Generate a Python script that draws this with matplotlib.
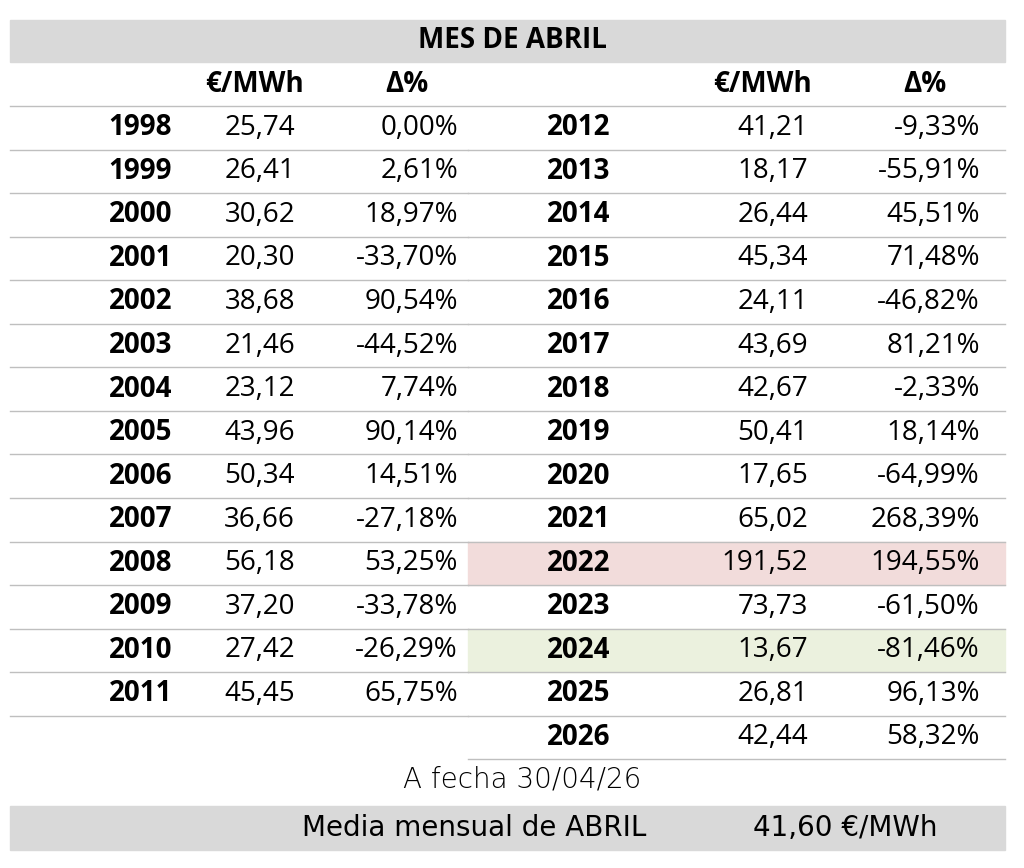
import matplotlib.pyplot as plt
from matplotlib.patches import Rectangle

years_left = ['1998', '1999', '2000', '2001', '2002', '2003', '2004', '2005', '2006',
              '2007', '2008', '2009', '2010', '2011']
price_left = ['25,74', '26,41', '30,62', '20,30', '38,68', '21,46', '23,12', '43,96', '50,34',
              '36,66', '56,18', '37,20', '27,42', '45,45']
delta_left = ['0,00%', '2,61%', '18,97%', '-33,70%', '90,54%', '-44,52%', '7,74%', '90,14%',
              '14,51%', '-27,18%', '53,25%', '-33,78%', '-26,29%', '65,75%']
years_right = ['2012', '2013', '2014', '2015', '2016', '2017', '2018', '2019', '2020',
               '2021', '2022', '2023', '2024', '2025', '2026']
price_right = ['41,21', '18,17', '26,44', '45,34', '24,11', '43,69', '42,67', '50,41', '17,65',
               '65,02', '191,52', '73,73', '13,67', '26,81', '42,44']
delta_right = ['-9,33%', '-55,91%', '45,51%', '71,48%', '-46,82%', '81,21%', '-2,33%', '18,14%',
               '-64,99%', '268,39%', '194,55%', '-61,50%', '-81,46%', '96,13%', '58,32%']
highlights = {'2022': '#f2dcdb', '2024': '#ebf1de'}

plt.rcParams['font.family'] = ['Open Sans', 'DejaVu Sans']
fig = plt.figure(figsize=(10.24, 8.68), dpi=100)
ax = fig.add_axes([0, 0, 1, 1])
ax.set_xlim(0, 1024)
ax.set_ylim(868, 0)
ax.axis('off')

fs = 20
grey = '#d9d9d9'
line = '#bfbfbf'
top, step = 106, 43.55

# title band
ax.add_patch(Rectangle((10, 20), 995, 42, color=grey, zorder=0))
ax.text(512, 41, 'MES DE ABRIL', ha='center', va='center', fontsize=fs, fontweight='bold')
for x, t in [(255, '€/MWh'), (407, 'Δ%'), (762, '€/MWh'), (925, 'Δ%')]:
    ax.text(x, 84, t, ha='center', va='center', fontsize=fs, fontweight='bold')
ax.plot([10, 1005], [106, 106], color=line, lw=1)

for i, (y_, p, d) in enumerate(zip(years_left, price_left, delta_left)):
    yc = top + step * (i + 0.5)
    ax.text(172, yc, y_, ha='right', va='center', fontsize=fs, fontweight='bold')
    ax.text(295, yc, p, ha='right', va='center', fontsize=fs)
    ax.text(458, yc, d, ha='right', va='center', fontsize=fs)
    ax.plot([10, 468], [top + step * (i + 1)] * 2, color=line, lw=1)

for i, (y_, p, d) in enumerate(zip(years_right, price_right, delta_right)):
    yc = top + step * (i + 0.5)
    if y_ in highlights:
        ax.add_patch(Rectangle((468, top + step * i), 537, step, color=highlights[y_], zorder=0))
    ax.text(610, yc, y_, ha='right', va='center', fontsize=fs, fontweight='bold')
    ax.text(808, yc, p, ha='right', va='center', fontsize=fs)
    ax.text(980, yc, d, ha='right', va='center', fontsize=fs)
    ax.plot([468, 1005], [top + step * (i + 1)] * 2, color=line, lw=1)

ax.text(522, 780, 'A fecha 30/04/26', ha='center', va='center', fontsize=fs,
        family='DejaVu Sans', fontweight='light')
ax.add_patch(Rectangle((10, 806), 995, 44, color=grey, zorder=0))
ax.text(474, 828, 'Media mensual de ABRIL', ha='center', va='center', fontsize=fs,
        family='DejaVu Sans')
ax.text(845, 828, '41,60 €/MWh', ha='center', va='center', fontsize=fs, family='DejaVu Sans')

fig.savefig('out.png', dpi=100)
